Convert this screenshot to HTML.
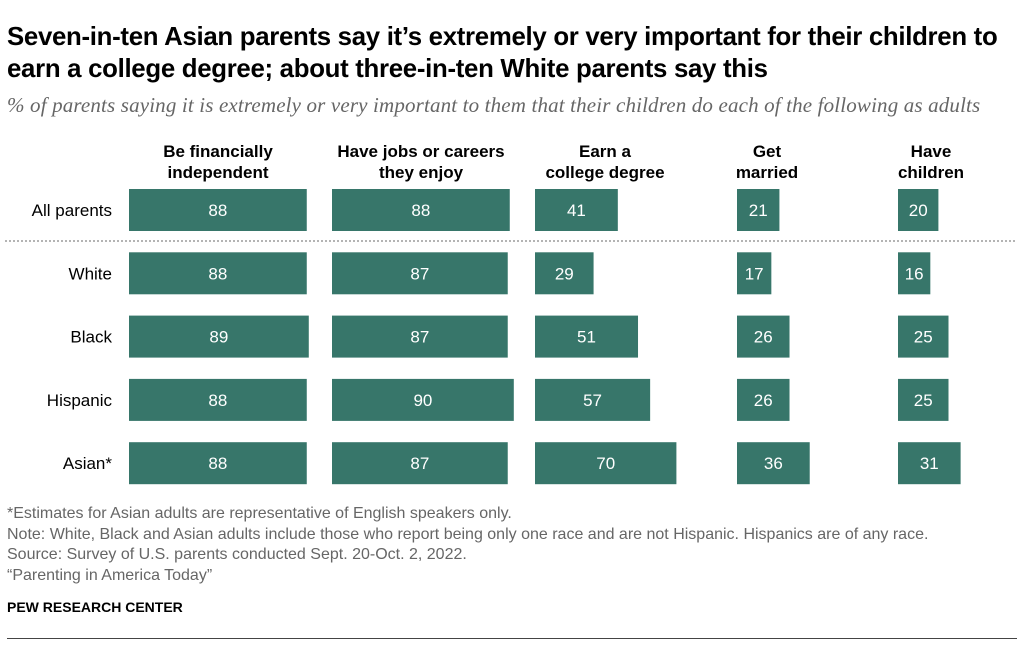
<!DOCTYPE html>
<html><head><meta charset="utf-8"><style>
body{margin:0;width:1023px;height:646px;background:#fff;font-family:"Liberation Sans",sans-serif;position:relative;overflow:hidden}
.t{position:absolute;left:7px;top:21px;font-size:25.8px;font-weight:bold;color:#000;line-height:32px;letter-spacing:-0.3px;white-space:nowrap}
.s{position:absolute;left:7px;top:93px;font-family:"Liberation Serif",serif;font-style:italic;font-size:21px;color:#666;white-space:nowrap;letter-spacing:0.15px}
.ft{position:absolute;left:7px;font-size:16px;color:#666;white-space:nowrap}
</style></head><body>
<div class="t">Seven-in-ten Asian parents say it’s extremely or very important for their children to<br>earn a college degree; about three-in-ten White parents say this</div>
<div class="s">% of parents saying it is extremely or very important to them that their children do each of the following as adults</div>
<svg id="c" width="1023" height="646" style="position:absolute;left:0;top:0"></svg>
<div class="ft" style="top:505px">*Estimates for Asian adults are representative of English speakers only.</div>
<div class="ft" style="top:526px">Note: White, Black and Asian adults include those who report being only one race and are not Hispanic. Hispanics are of any race.</div>
<div class="ft" style="top:546px">Source: Survey of U.S. parents conducted Sept. 20-Oct. 2, 2022.</div>
<div class="ft" style="top:567px">“Parenting in America Today”</div>
<div class="ft" style="top:599px;color:#000;font-weight:bold;font-size:14px">PEW RESEARCH CENTER</div>
<div style="position:absolute;left:7px;top:638px;width:1010px;height:1px;background:#444"></div>
<script>
const categories=["All parents","White","Black","Hispanic","Asian*"];
const columns=[["Be financially","independent"],["Have jobs or careers","they enjoy"],["Earn a","college degree"],["Get","married"],["Have","children"]];
const financial=[88,88,89,88,88];
const jobs=[88,87,87,90,87];
const degree=[41,29,51,57,70];
const married=[21,17,26,26,36];
const children=[20,16,25,25,31];
const series=[financial,jobs,degree,married,children];
const NS="http://www.w3.org/2000/svg";
const svg=document.getElementById('c');
const colX=[129,332,535,737,898];
const scale=2.02;
const x=(v)=>v*scale;
const rowY=(i)=>189+i*63.3;
function mk(t,a){const e=document.createElementNS(NS,t);for(const k in a)e.setAttribute(k,a[k]);svg.appendChild(e);return e;}
columns.forEach((c,j)=>{
  const cx=colX[j]+(j<2?89:j==2?70:j==3?30:33);
  c.forEach((ln,k)=>{const t=mk('text',{x:cx,y:157+k*21,'text-anchor':'middle','font-size':17,'font-weight':'bold',fill:'#000'});t.textContent=ln;
  
  });
});
categories.forEach((c,i)=>{
  const t=mk('text',{x:112,y:rowY(i)+27,'text-anchor':'end','font-size':17,fill:'#000'});t.textContent=c;
  
  
  series.forEach((s,j)=>{
    const r=mk('rect',{x:colX[j],y:rowY(i),width:x(s[i]),height:42,fill:'#37766a'});
    
    
    const v=mk('text',{x:colX[j]+x(s[i])/2,y:rowY(i)+27,'text-anchor':'middle','font-size':17,fill:'#fff'});v.textContent=s[i];
    
    
  });
});
const d=mk('line',{x1:5,x2:1016,y1:241,y2:241,stroke:'#888','stroke-width':1.2,'stroke-dasharray':'2,2'});


</script>
</body></html>
